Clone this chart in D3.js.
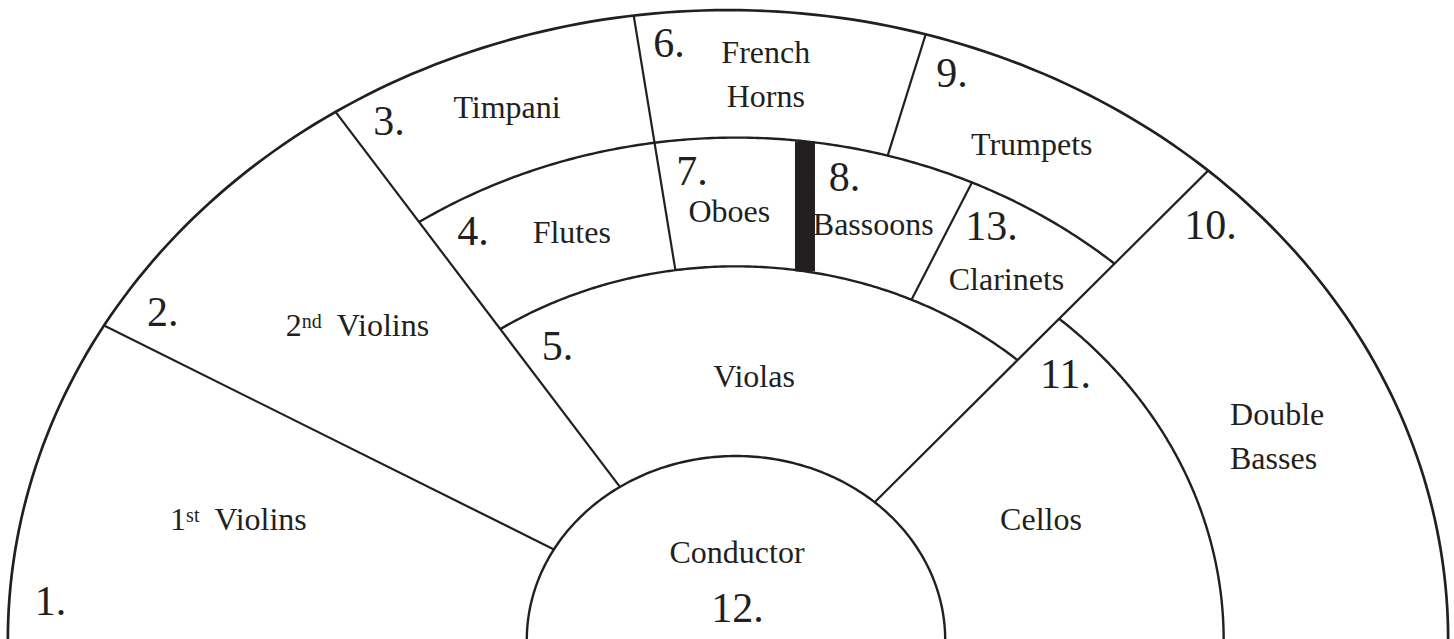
<!DOCTYPE html>
<html>
<head>
<meta charset="utf-8">
<script src="https://cdn.jsdelivr.net/npm/d3@7"></script>
<style>
  html, body { margin: 0; padding: 0; background: #fff; }
  svg { display: block; }
  .edge { fill: none; stroke: #231f20; }
  text { font-family: "Liberation Serif", "Times New Roman", serif; fill: #231f20; }
</style>
</head>
<body>
<div id="chart"></div>
<script>
"use strict";

// sections, in the chart's own numbering
var sectionNumbers = ["1.", "2.", "3.", "4.", "5.", "6.", "7.", "8.", "9.", "10.", "11.", "12.", "13."];
var sectionNames = ["1st Violins", "2nd Violins", "Timpani", "Flutes", "Violas", "French\nHorns",
  "Oboes", "Bassoons", "Trumpets", "Double\nBasses", "Cellos", "Conductor", "Clarinets"];

// rings of the stage (outer edge = 1) and the degrees each one spans
var ringRadii = [0.293, 0.595, 0.683, 0.80, 1.0];
var ringFrom  = [0, 48.5, 0, 48.5, 0];
var ringTo    = [180, 123.7, 48.5, 123.7, 180];

// radial dividers: angle, from ring, to ring
var dividerAngles = [150.5, 123.7, 98.2, 74.6, 65.6, 48.5];
var dividerInner  = [0.293, 0.293, 0.595, 0.80, 0.595, 0.293];
var dividerOuter  = [1, 1, 1, 1, 0.80, 1];

// the thick partition between oboes and bassoons (x span, unit radius)
var partitionSpan = [0.0826, 0.1106];

// label placement, polar (degrees, radius)
var numberAngle  = [177.6, 148.1, 121.15, 120.35, 119.3, 95.77, 94.86, 78.0, 71.04, 43.85, 41.0, 85.8, 60.67];
var numberRadius = [0.961, 0.9455, 0.9396, 0.7289, 0.5112, 0.933, 0.7271, 0.731, 0.9311, 0.9216, 0.6116, 0.0288, 0.7305];
var nameAngle    = [165.9, 137.6, 111.1, 110.0, 86.4, 87.4, 90.8, 73.4, 61.8, 26.33, 22.3, 89.3, 55.8];
var nameRadius   = [0.7185, 0.7179, 0.8907, 0.6726, 0.4037, 0.9197, 0.6657, 0.6728, 0.8765, 0.772, 0.4617, 0.1226, 0.6739];
var leftAligned  = [9];

var width = 1454, height = 639;
var cx = 736, cy = 640, rx = 714, ry = 628;

var x = d3.scaleLinear().domain([-1, 1]).range([cx - rx, cx + rx]);
var y = d3.scaleLinear().domain([0, 1]).range([cy, cy - ry]);
// the outer edge sits a little left of the inner rings in the drawing
var xOuter = d3.scaleLinear().domain([-1, 1]).range([10, 1446]);

var svg = d3.select("#chart")
  .append("svg")
  .attr("width", width)
  .attr("height", height);

svg.append("rect").attr("width", width).attr("height", height).attr("fill", "#fff");

function place(angle, r, xs) {
  var a = angle * Math.PI / 180;
  return [(xs || x)(r * Math.cos(a)), y(r * Math.sin(a))];
}

function arcPoints(r, a0, a1, xs) {
  var n = 180;
  return d3.range(n + 1).map(function(i) {
    return place(a0 + (a1 - a0) * i / n, r, xs);
  });
}

var line = d3.line();

// clip for dividers that run out to the stage edge
var outerIdx = ringRadii.length - 1;
svg.append("clipPath")
  .attr("id", "stage")
  .append("path")
  .attr("d", line(arcPoints(1.003, 0, 180, xOuter)) + "Z");

// rings
ringRadii.forEach(function(r, i) {
  var outer = i === outerIdx;
  svg.append("path")
    .attr("class", "edge")
    .attr("stroke-width", outer ? 2.7 : 2.4)
    .attr("d", line(arcPoints(outer ? 1.003 : r, ringFrom[i], ringTo[i], outer ? xOuter : x)));
});

// dividers
var dividers = svg.append("g").attr("clip-path", "url(#stage)");
dividerAngles.forEach(function(a, i) {
  var r1 = dividerOuter[i] === 1 ? 1.05 : dividerOuter[i];
  dividers.append("path")
    .attr("class", "edge")
    .attr("stroke-width", 2.2)
    .attr("d", line([place(a, dividerInner[i]), place(a, r1)]));
});

// partition bar
var pMid = (partitionSpan[0] + partitionSpan[1]) / 2;
var pTop = y(Math.sqrt(0.80 * 0.80 - pMid * pMid));
var pBot = y(Math.sqrt(0.595 * 0.595 - pMid * pMid));
svg.append("rect")
  .attr("x", x(partitionSpan[0]))
  .attr("width", x(partitionSpan[1]) - x(partitionSpan[0]))
  .attr("y", pTop)
  .attr("height", pBot - pTop)
  .attr("fill", "#231f20");

var labels = svg.append("g");

// numbers
sectionNumbers.forEach(function(num, i) {
  var p = place(numberAngle[i], numberRadius[i]);
  labels.append("text")
    .attr("x", p[0])
    .attr("y", p[1])
    .attr("text-anchor", "middle")
    .attr("font-size", 42)
    .text(num);
});

// names
sectionNames.forEach(function(name, i) {
  var p = place(nameAngle[i], nameRadius[i]);
  var t = labels.append("text")
    .attr("x", p[0])
    .attr("y", p[1])
    .attr("font-size", 32)
    .attr("text-anchor", leftAligned.indexOf(i) >= 0 ? "start" : "middle");
  var ord = name.match(/^(\d)(st|nd|rd|th) (.+)$/);
  if (ord) {
    t.append("tspan").text(ord[1]);
    t.append("tspan").attr("font-size", 20).attr("dy", -8).text(ord[2]);
    t.append("tspan").attr("dy", 8).attr("dx", 15).text(ord[3]);
  } else {
    name.split("\n").forEach(function(part, j) {
      t.append("tspan")
        .attr("x", p[0])
        .attr("dy", j ? 44 : 0)
        .text(part);
    });
  }
});
</script>
</body>
</html>
